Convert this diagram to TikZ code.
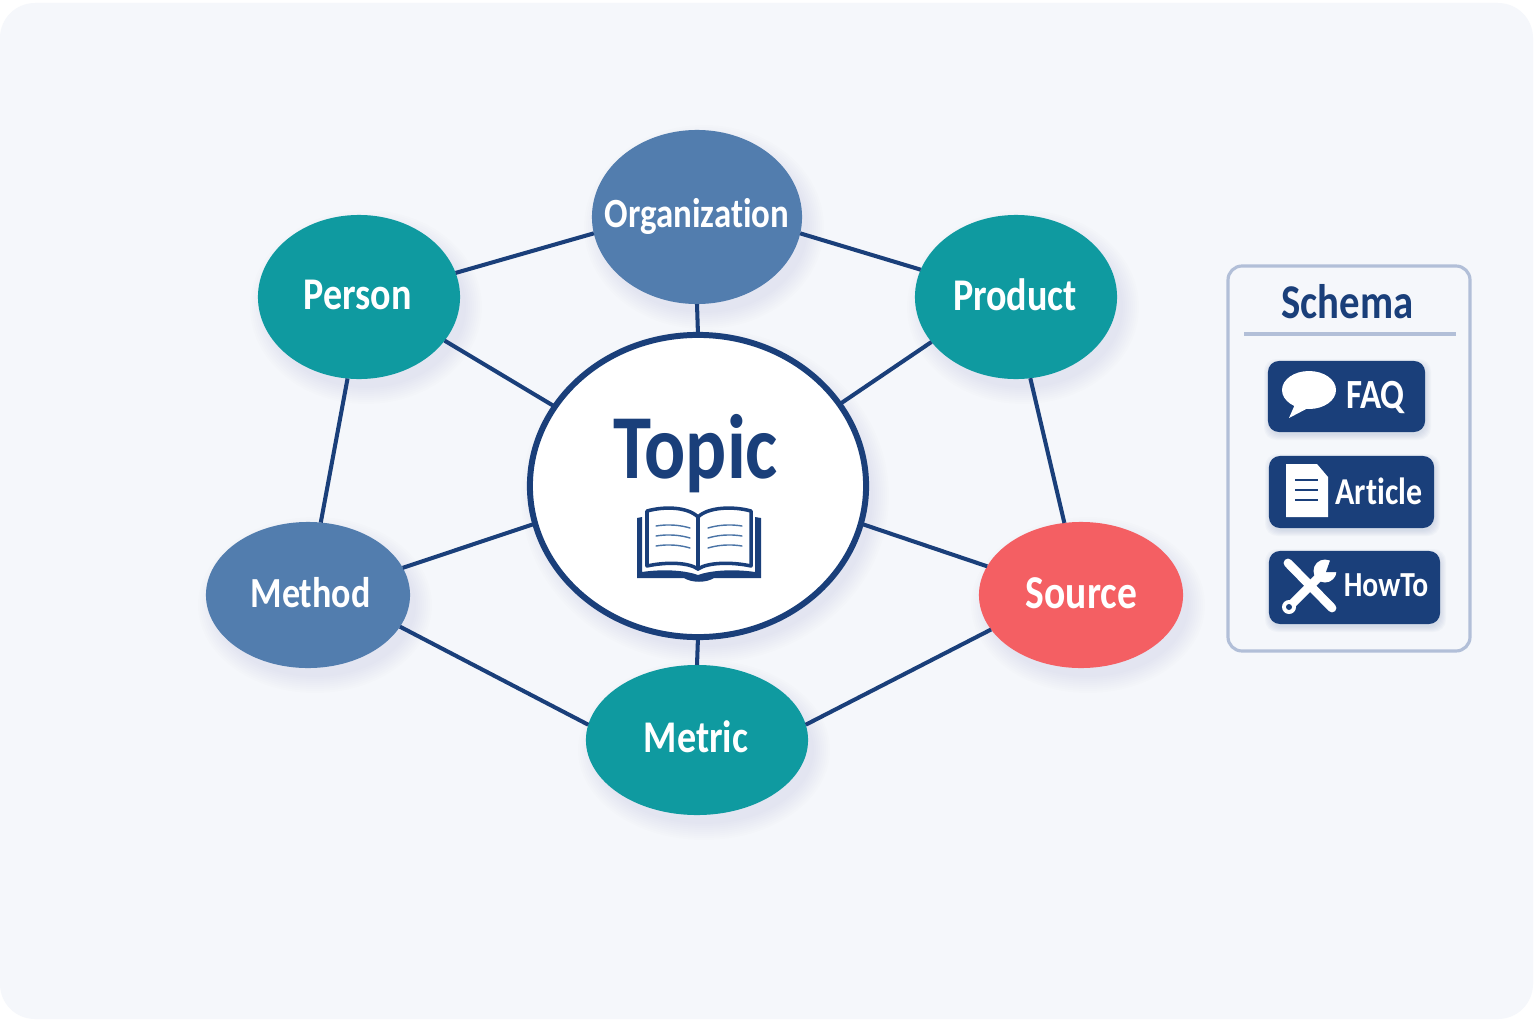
\documentclass[tikz,border=0pt]{standalone}
\usepackage{fontspec}
\setmainfont{Carlito}
\newfontfamily\lblfont[FakeStretch=0.84,Ligatures=NoCommon]{Carlito}
\usetikzlibrary{shapes.geometric}
\definecolor{bgpanel}{HTML}{F5F7FB}
\definecolor{navy}{HTML}{1A3F7A}
\definecolor{tealnode}{HTML}{0F9AA0}
\definecolor{bluenode}{HTML}{527DAE}
\definecolor{coralnode}{HTML}{F45F63}
\definecolor{panelline}{HTML}{B2BFD8}
\newcommand{\softshadow}[4]{%
  \foreach \g in {0,2,...,16} {
    \fill[navy,opacity=0.009] (#1+7,#2+10) ellipse ({#3+\g} and {#4+\g}) ;
  }
}
\newcommand{\softbox}[4]{%
  \foreach \g in {0,1,...,5} {
    \fill[navy,opacity=0.025,rounded corners=0.12cm] (#1-\g+1,#2-\g+3) rectangle (#3+\g+1,#4+\g+3) ;
  }
}
\tikzset{
  topicnode/.style={shape=ellipse,inner sep=0pt,outer sep=0pt},
  nodelabel/.style={text=white,inner sep=0pt,anchor=base,
    font=\lblfont\bfseries\fontsize{12.9}{15}\selectfont},
  link/.style={navy,line width=1.15pt},
  iconline/.style={navy,line width=0.4pt,line cap=round},
  schemabtn/.style={shape=rectangle,rounded corners=0.11cm,fill=navy,inner sep=0pt,outer sep=0pt},
  btnlabel/.style={text=white,inner sep=0pt,anchor=base},
}
\begin{document}
\begin{tikzpicture}[x=0.01cm,y=-0.01cm]
      \useasboundingbox (0,0) rectangle (1536,1024) ;
      \fill[white] (0,0) rectangle (1536,1024) ;
      \fill[bgpanel,rounded corners=0.35cm] (0,3) rectangle (1533,1019) ;
      % shadows
      \softshadow{697}{217}{104}{86}
      \softshadow{359}{297}{100}{81}
      \softshadow{1016}{297}{100}{81}
      \softshadow{308}{595}{101}{72}
      \softshadow{1081}{595}{101}{72}
      \softshadow{697}{740}{110}{74}
      \softshadow{698}{486}{168}{151}
      \softbox{1268}{361}{1425}{432}
      \softbox{1269}{456}{1434}{528}
      \softbox{1269}{551}{1440}{624}
      % nodes
      \node[topicnode,fill=bluenode,minimum width=2.10cm,minimum height=1.74cm] (Organization) at (697,217) {} ;
      \node[topicnode,fill=tealnode,minimum width=2.02cm,minimum height=1.64cm] (Person) at (359,297) {} ;
      \node[topicnode,fill=tealnode,minimum width=2.02cm,minimum height=1.64cm] (Product) at (1016,297) {} ;
      \node[topicnode,fill=bluenode,minimum width=2.04cm,minimum height=1.46cm] (Method) at (308,595) {} ;
      \node[topicnode,fill=coralnode,minimum width=2.04cm,minimum height=1.46cm] (Source) at (1081,595) {} ;
      \node[topicnode,fill=tealnode,minimum width=2.22cm,minimum height=1.50cm] (Metric) at (697,740) {} ;
      \node[shape=ellipse,draw=navy,line width=1.7pt,fill=white,inner sep=0pt,outer sep=0pt,
        minimum width=3.36cm,minimum height=3.02cm] (Topic) at (698,486) {} ;
      % labels
      \node[nodelabel,font=\lblfont\bfseries\fontsize{11.8}{15}\selectfont] (OrganizationLabel) at (697,227) {Organization} ;
      \node[nodelabel] (PersonLabel) at (357.5,309) {Person} ;
      \node[nodelabel] (ProductLabel) at (1015,310) {Product} ;
      \node[nodelabel,font=\lblfont\bfseries\fontsize{12.2}{15}\selectfont] (MethodLabel) at (310.5,607) {Method} ;
      \node[nodelabel,font=\lblfont\bfseries\fontsize{13.4}{15}\selectfont] (SourceLabel) at (1081.5,608) {Source} ;
      \node[nodelabel] (MetricLabel) at (696,752) {Metric} ;
      \node[text=navy,inner sep=0pt,anchor=base,font=\lblfont\bfseries\fontsize{26}{28}\selectfont] (TopicLabel) at (695.5,478) {Topic} ;
      % connectors
      \draw[link] (Person.14) -- (Organization.189) ;
      \draw[link] (Organization.-9) -- (Product.164) ;
      \draw[link] (Organization.south) -- (Topic.north) ;
      \draw[link] (Topic.south) -- (Metric.north) ;
      \draw[link] (Person.-27) -- (Topic.151) ;
      \draw[link] (Product.208) -- (Topic.30) ;
      \draw[link] (Person.-98) -- (Method.80) ;
      \draw[link] (Product.-80) -- (Source.103) ;
      \draw[link] (Method.16) -- (Topic.193) ;
      \draw[link] (Source.163) -- (Topic.-13) ;
      \draw[link] (Method.-19) -- (Metric.172) ;
      \draw[link] (Source.201) -- (Metric.8) ;
      % book
      \fill[navy] (637,518) -- (642,517) -- (642,572) .. controls (662,569) and (684,570) .. (698,575)
        .. controls (712,570) and (735,569) .. (755,572) -- (755,517) -- (761,518) -- (761,578) -- (714,578)
        .. controls (706,583) and (692,583) .. (684,578) -- (637,578) -- cycle ;
      \draw[navy,line width=1pt,fill=white,line join=round] (647,511) .. controls (665,506) and (688,507) .. (698,517) -- (698,569)
        .. controls (688,562) and (665,562) .. (647,566) -- cycle ;
      \draw[navy,line width=1pt,fill=white,line join=round] (751,511) .. controls (733,506) and (708,507) .. (698,517) -- (698,569)
        .. controls (708,562) and (733,562) .. (751,566) -- cycle ;
      \foreach \yy in {526,536,546} {
        \draw[iconline,bluenode!85!navy] (656,\yy) .. controls (668,\yy-2) and (680,\yy-1) .. (690,\yy+2) ;
        \draw[iconline,bluenode!85!navy] (742,\yy) .. controls (730,\yy-2) and (718,\yy-1) .. (708,\yy+2) ;
      }
      % schema panel
      \draw[panelline,line width=0.9pt,rounded corners=0.14cm] (1228,266) rectangle (1470,651) ;
      \draw[panelline,line width=0.9pt] (1244,334) -- (1456,334) ;
      \node[text=navy,inner sep=0pt,anchor=base,font=\lblfont\bfseries\fontsize{13.8}{16}\selectfont] (SchemaTitle) at (1347.5,318) {Schema} ;
      \node[schemabtn,minimum width=1.57cm,minimum height=0.71cm] (FaqBtn) at (1346.5,396.5) {} ;
      \node[schemabtn,minimum width=1.65cm,minimum height=0.72cm] (ArticleBtn) at (1351.5,492) {} ;
      \node[schemabtn,minimum width=1.71cm,minimum height=0.73cm] (HowToBtn) at (1354.5,587.5) {} ;
      \node[btnlabel,font=\lblfont\bfseries\fontsize{11.8}{15}\selectfont] (FaqLabel) at (1375.5,408) {FAQ} ;
      \node[btnlabel,font=\lblfont\bfseries\fontsize{10.8}{14}\selectfont] (ArticleLabel) at (1379,504) {Article} ;
      \node[btnlabel,font=\lblfont\bfseries\fontsize{10}{13}\selectfont] (HowToLabel) at (1386,596) {HowTo} ;
      % speech bubble
      \fill[white] (1309,390) ellipse (27 and 19) ;
      \fill[white] (1296,402) -- (1289,418) -- (1310,407) -- cycle ;
      % document
      \fill[white,line join=round] (1286,464) -- (1317,464) -- (1328,477) -- (1328,517) -- (1286,517) -- cycle ;
      \foreach \yy in {480,490,500} {
        \draw[navy,line width=0.7pt] (1295,\yy) -- (1318,\yy) ;
      }
      % tools
      \draw[white,line width=2.5pt,line cap=round] (1288,563) -- (1332,608) ;
      \draw[white,line width=2.5pt,line cap=round] (1290,606) -- (1322,574) ;
      \fill[white] (1325,571) circle (11.5) ;
      \fill[white] (1289,607) circle (7) ;
      \fill[navy] (1289,607) circle (3) ;
      \fill[navy] (1326,572) -- (1331,558) -- (1342,558) -- (1339,572) -- cycle ;
\end{tikzpicture}
\end{document}
